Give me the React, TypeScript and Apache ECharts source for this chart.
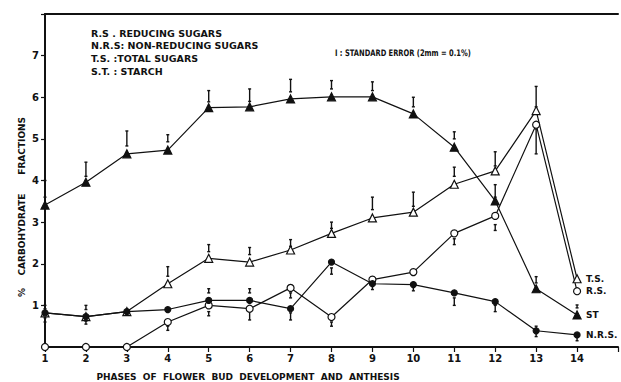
import React, { useEffect, useRef } from "react";
import * as echarts from "echarts";

const phases = [1, 2, 3, 4, 5, 6, 7, 8, 9, 10, 11, 12, 13, 14];
const reducingSugars = [0, 0, 0, 0.6, 1.0, 0.92, 1.42, 0.72, 1.62, 1.8, 2.73, 3.15, 5.34, 1.34];
const nonReducingSugars = [0.82, 0.73, 0.85, 0.9, 1.12, 1.12, 0.92, 2.04, 1.52, 1.5, 1.3, 1.09, 0.39, 0.29];
const totalSugars = [0.82, 0.73, 0.85, 1.52, 2.13, 2.04, 2.33, 2.73, 3.1, 3.24, 3.91, 4.23, 5.68, 1.64];
const starch = [3.41, 3.96, 4.64, 4.73, 5.75, 5.77, 5.96, 6.01, 6.01, 5.6, 4.8, 3.51, 1.4, 0.77];

// standard error marks: [phase, low, high]
const errorBars: number[][] = [
  [1, 3.6, 4.0], [2, 4.1, 4.44], [3, 4.83, 5.19], [4, 4.93, 5.1], [5, 5.89, 6.16], [6, 5.9, 6.2],
  [7, 6.13, 6.43], [8, 6.2, 6.4], [9, 6.16, 6.37], [10, 5.77, 6.0], [11, 5.0, 5.17], [12, 3.6, 3.9],
  [13, 1.54, 1.69], [14, 0.94, 1.01],
  [1, 0.92, 1.0], [2, 0.9, 1.0], [4, 1.7, 1.93], [5, 2.29, 2.46], [6, 2.22, 2.39], [7, 2.42, 2.58],
  [8, 2.85, 3.0], [9, 3.3, 3.6], [10, 3.38, 3.72], [11, 4.1, 4.32], [12, 4.35, 4.69], [13, 5.77, 6.26],
  [4, 0.4, 0.5], [5, 0.75, 0.85], [6, 0.65, 0.85], [7, 1.18, 1.3], [8, 0.5, 0.6], [9, 1.38, 1.47],
  [10, 1.35, 1.55], [11, 2.46, 2.6], [12, 2.8, 2.94], [13, 4.64, 5.24],
  [1, 0.6, 0.7], [2, 0.55, 0.62], [5, 1.3, 1.4], [6, 1.3, 1.4], [7, 0.65, 0.82], [8, 1.75, 1.9],
  [11, 1.0, 1.18], [12, 0.85, 1.0], [13, 0.25, 0.5], [14, 0.15, 0.24],
];

const legendLines = [
  "R.S . REDUCING SUGARS",
  "N.R.S: NON-REDUCING SUGARS",
  "T.S. :TOTAL SUGARS",
  "S.T. : STARCH",
];
const errorNote = "I : STANDARD ERROR (2mm = 0.1%)";
const yTitle = "%    CARBOHYDRATE      FRACTIONS";
const xTitle = "PHASES  OF  FLOWER  BUD  DEVELOPMENT  AND  ANTHESIS";

const FONT = "DejaVu Sans";

export default function App() {
  const ref = useRef<HTMLDivElement>(null);
  useEffect(() => {
    if (!ref.current) return;
    const chart = echarts.init(ref.current, null, { renderer: "svg" });
    const pair = (ys: number[]) => phases.map((p, i) => [p, ys[i]]);
    const lineSeries = (name: string, ys: number[], symbol: string, filled: boolean, size: number, label: string) => ({
      name,
      type: "line",
      data: pair(ys),
      symbol,
      symbolSize: size,
      showAllSymbol: true,
      lineStyle: { color: "#111", width: 1.2 },
      itemStyle: { color: filled ? "#111" : "#fff", borderColor: "#111", borderWidth: 1.2 },
      endLabel: {
        show: true,
        formatter: label,
        distance: 9,
        color: "#111",
        fontFamily: FONT,
        fontWeight: "bold",
        fontSize: 9,
      },
      z: 3,
    });
    chart.setOption({
      animation: false,
      grid: { left: 45, right: -2, top: 14, bottom: 35, show: false },
      xAxis: [
        {
          type: "value",
          min: 1,
          max: 15,
          interval: 1,
          axisLine: { show: true, lineStyle: { color: "#111", width: 2 } },
          axisTick: { show: true, length: 5, lineStyle: { color: "#111", width: 1.2 } },
          axisLabel: {
            color: "#111",
            fontFamily: FONT,
            fontWeight: "bold",
            fontSize: 10,
            margin: 6,
            formatter: (v: number) => (v >= 1 && v <= 14 ? String(v) : ""),
          },
          splitLine: { show: false },
        },
        {
          type: "value",
          position: "top",
          min: 1,
          max: 15,
          axisLine: { show: true, lineStyle: { color: "#111", width: 2 } },
          axisTick: { show: false },
          axisLabel: { show: false },
          splitLine: { show: false },
        },
      ],
      yAxis: {
        type: "value",
        min: 0,
        max: 8,
        interval: 1,
        axisLine: { show: true, lineStyle: { color: "#111", width: 2 } },
        axisTick: { show: true, length: 4, lineStyle: { color: "#111", width: 1.2 } },
        axisLabel: {
          color: "#111",
          fontFamily: FONT,
          fontWeight: "bold",
          fontSize: 10,
          margin: 6,
          formatter: (v: number) => (v >= 1 && v <= 7 ? String(v) : ""),
        },
        splitLine: { show: false },
      },
      series: [
        lineSeries("T.S.", totalSugars, "triangle", false, 8, "T.S."),
        lineSeries("R.S.", reducingSugars, "circle", false, 7, "R.S."),
        lineSeries("ST", starch, "triangle", true, 8, "ST"),
        lineSeries("N.R.S.", nonReducingSugars, "circle", true, 6, "N.R.S."),
        {
          type: "custom",
          data: errorBars,
          z: 2,
          renderItem: (params: any, api: any) => {
            const x = api.value(0);
            const lo = api.coord([x, api.value(1)]);
            const hi = api.coord([x, api.value(2)]);
            const st = { stroke: "#111", lineWidth: 1.4 };
            return {
              type: "group",
              children: [
                { type: "line", shape: { x1: lo[0], y1: lo[1], x2: hi[0], y2: hi[1] }, style: st },
                { type: "line", shape: { x1: lo[0] - 1.5, y1: lo[1], x2: lo[0] + 1.5, y2: lo[1] }, style: st },
                { type: "line", shape: { x1: hi[0] - 1.5, y1: hi[1], x2: hi[0] + 1.5, y2: hi[1] }, style: st },
              ],
            };
          },
        },
      ],
      graphic: [
        ...legendLines.map((t, i) => ({
          type: "text",
          left: 91,
          top: 28 + i * 12.7,
          style: { text: t, fill: "#111", font: `bold 9.5px "${FONT}"` },
        })),
        {
          type: "text",
          x: 335,
          y: 53,
          scaleX: 0.75,
          style: {
            text: errorNote,
            fill: "#111",
            font: `bold 9px "${FONT}"`,
            align: "left",
            verticalAlign: "middle",
          },
        },
        {
          type: "text",
          x: 22,
          y: 207,
          rotation: Math.PI / 2,
          style: {
            text: yTitle,
            fill: "#111",
            font: `bold 9px "${FONT}"`,
            align: "center",
            verticalAlign: "middle",
          },
        },
        {
          type: "text",
          x: 248,
          y: 377,
          style: {
            text: xTitle,
            fill: "#111",
            font: `bold 9px "${FONT}"`,
            align: "center",
            verticalAlign: "middle",
          },
        },
      ],
    });
    return () => chart.dispose();
  }, []);
  return (
    <div
      ref={ref}
      style={{ position: "fixed", left: 0, top: 0, width: 621, height: 382, background: "#fff" }}
    />
  );
}
